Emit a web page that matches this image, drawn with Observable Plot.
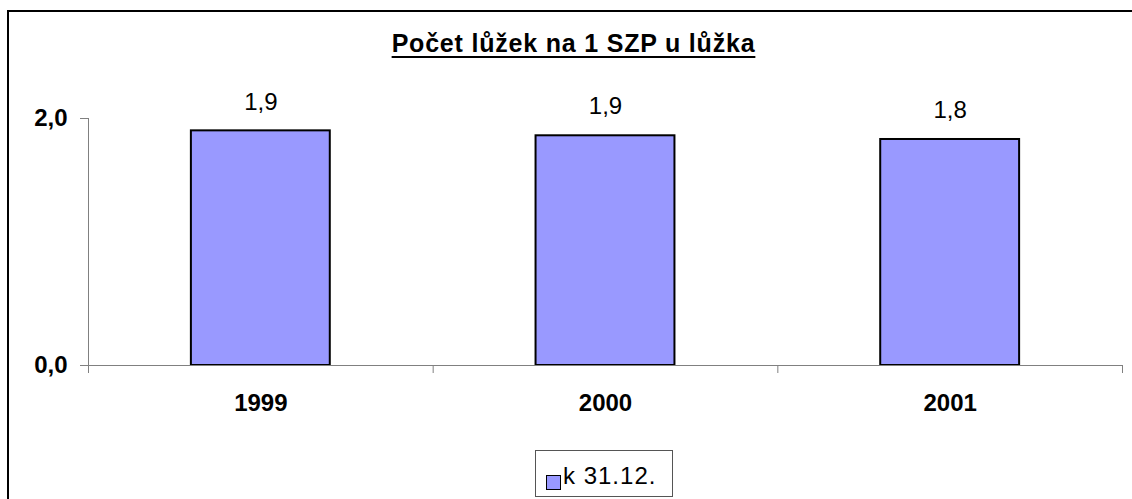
<!DOCTYPE html>
<html>
<head>
<meta charset="utf-8">
<script src="https://cdn.jsdelivr.net/npm/d3@7"></script>
<script src="https://cdn.jsdelivr.net/npm/@observablehq/plot@0.6"></script>
<style>
  html, body { margin: 0; padding: 0; background: #fff; overflow: hidden; }
  #wrap { position: relative; width: 1132px; height: 499px; overflow: hidden; font-family: "Liberation Sans", Arial, sans-serif; }
  #border { position: absolute; left: 7px; top: 10px; width: 1300px; height: 700px; border: 2.5px solid #000; box-sizing: border-box; }
  #title { position: absolute; left: 0; width: 1147px; top: 31px; text-align: center; font-size: 25px; line-height: 25px; font-weight: bold; letter-spacing: 0.8px; text-decoration: underline; text-decoration-thickness: 2px; text-underline-offset: 4px; color: #000; }
  #chart { position: absolute; left: 0; top: 0; }
  #legend { position: absolute; left: 535px; top: 450px; width: 138px; height: 47px; border: 1px solid #555; box-sizing: border-box; background: #fff; }
  #legend .sw { position: absolute; left: 10px; top: 24px; width: 15px; height: 15px; background: #9999FF; border: 1.5px solid #000; box-sizing: border-box; }
  #legend .lb { position: absolute; left: 27px; top: 13px; font-size: 24px; line-height: 24px; letter-spacing: 1px; color: #000; white-space: nowrap; }
</style>
</head>
<body>
<div id="wrap">
  <div id="border"></div>
  <div id="chart"></div>
  <div id="title"></div>
  <div id="legend"><div class="sw"></div><div class="lb"></div></div>
</div>
<script>
const title = "Počet lůžek na 1 SZP u lůžka";
const seriesName = "k 31.12.";
const years = ["1999", "2000", "2001"];
const values = [1.90, 1.86, 1.83];
const yTicks = [0, 2];

const fmt = v => d3.format(".1f")(v).replace(".", ",");
const data = years.map((year, i) => ({year, value: values[i]}));

document.getElementById("title").textContent = title;
document.querySelector("#legend .lb").textContent = seriesName;

const W = 1132, ML = 88, MR = 10;
const halfStep = (W - ML - MR) / years.length / 2;

const chart = Plot.plot({
  width: W,
  height: 499,
  marginLeft: ML,
  marginRight: MR,
  marginTop: 118,
  marginBottom: 134,
  style: {fontFamily: "'Liberation Sans', Arial, sans-serif", background: "transparent", color: "#000"},
  x: {domain: years, paddingInner: 0.597, paddingOuter: 0.2985, round: false, label: null},
  y: {domain: [0, 2], label: null},
  marks: [
    Plot.barY(data, {x: "year", y: "value", fill: "#9999FF", stroke: "#000", strokeWidth: 2}),
    Plot.frame({anchor: "left", stroke: "#808080"}),
    Plot.frame({anchor: "bottom", stroke: "#808080"}),
    Plot.axisY(yTicks, {tickSize: 8, tickPadding: 13, tickFormat: fmt, fontSize: 24, fontWeight: "bold", stroke: "#808080", fill: "#000", label: null}),
    Plot.axisX({tickSize: 0, tickPadding: 28, fontSize: 24, fontWeight: "bold", fill: "#000", label: null}),
    Plot.axisX({tickSize: 8, stroke: "#808080", fill: "none", dx: -halfStep, label: null}),
    Plot.axisX([years[years.length - 1]], {tickSize: 8, stroke: "#808080", fill: "none", dx: halfStep, label: null}),
    Plot.text(data, {x: "year", y: "value", text: d => fmt(d.value), dy: -29, fontSize: 24, fill: "#000"})
  ]
});
document.getElementById("chart").appendChild(chart);
</script>
</body>
</html>
